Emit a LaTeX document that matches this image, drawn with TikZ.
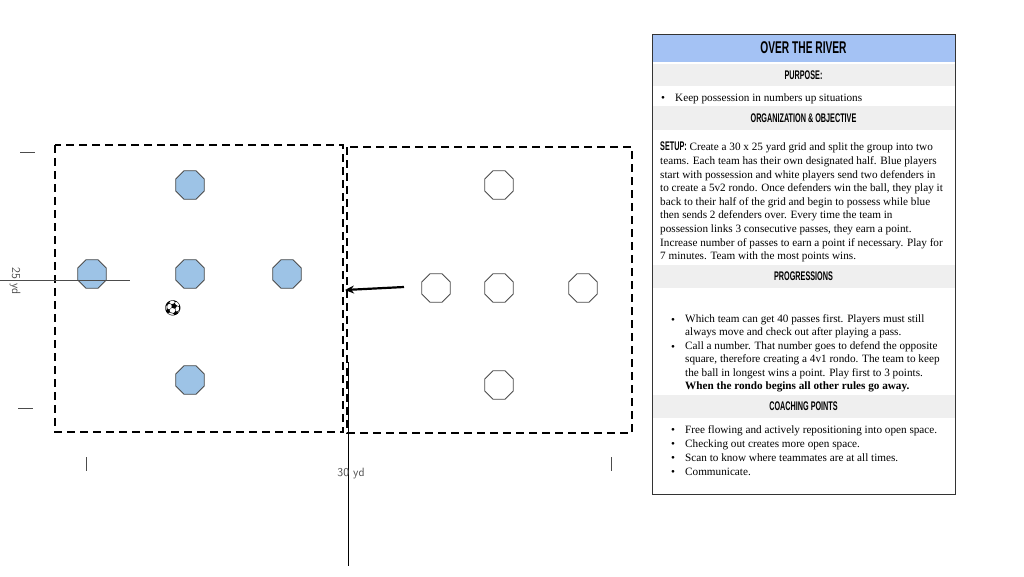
\documentclass[tikz,border=0pt]{standalone}
\usepackage{fontspec}
\setmainfont{Liberation Serif}
\newfontfamily\headf{Liberation Sans}
\newfontfamily\emo{Noto Emoji}
\usetikzlibrary{shapes.geometric,arrows.meta}
\definecolor{pblue}{HTML}{9DC3E6}
\definecolor{hblue}{HTML}{A4C2F4}
\definecolor{band}{HTML}{EFEFEF}
\tikzset{
 oct/.style={regular polygon,regular polygon sides=8,minimum size=31pt,inner sep=0,draw=black!70,line width=0.8pt},
 bp/.style={oct,fill=pblue},
 wp/.style={oct,fill=white},
 grid/.style={dashed,dash pattern=on 8pt off 5pt,line width=1.6pt},
 hd/.style={font=\headf\bfseries\fontsize{12.5}{12}\selectfont,inner sep=0},
 body/.style={font=\fontsize{11.2}{13.6}\selectfont,align=left,inner sep=0,anchor=base west},
 mbody/.style={body,anchor=north west},
 bul/.style={body}
}
\newcommand\hx[1]{\scalebox{0.58}[1]{\MakeUppercase{#1}}}
\newcommand\tx[1]{\scalebox{0.6}[1]{\MakeUppercase{#1}}}
\begin{document}
\begin{tikzpicture}[x=1pt,y=-1pt]
\useasboundingbox (0,0) rectangle (1024,576);
% grid
\draw[grid] (55,145) rectangle (343,432);
\draw[grid] (347,147) rectangle (632,433);
% players
\node[bp] (b1) at (190,185) {};
\node[bp] (b2) at (92,274) {};
\node[bp] (b3) at (190,274) {};
\node[bp] (b4) at (287,274) {};
\node[bp] (b5) at (190,380) {};
\node[wp] (w1) at (499,185) {};
\node[wp] (w2) at (436,288) {};
\node[wp] (w3) at (499,288) {};
\node[wp] (w4) at (583,288) {};
\node[wp] (w5) at (499,385) {};
\node (ball) at (173,308) {\emo\fontsize{15}{15}\selectfont ⚽};
% arrow
\coordinate (as) at (404,287);
\coordinate (ae) at (345,290);
\draw[-{Stealth[length=9pt,width=8pt]},line width=2.2pt] (as) -- (ae);
% measurement lines
\coordinate (h1) at (0,280); \coordinate (h2) at (130,280);
\draw[black!70,line width=0.8pt] (h1) -- (h2);
\node[rotate=-90,font=\sffamily\fontsize{12}{12}\selectfont,text=black!70] (l25) at (15,281) {25 yd};
\coordinate (t1) at (20,152); \coordinate (t2) at (35,152);
\draw[black!70,line width=0.8pt] (t1) -- (t2);
\coordinate (t3) at (18,408); \coordinate (t4) at (33,408);
\draw[black!70,line width=0.8pt] (t3) -- (t4);
\coordinate (v1) at (86,457); \coordinate (v2) at (86,471);
\draw[black!70,line width=0.8pt] (v1) -- (v2);
\coordinate (v3) at (611,457); \coordinate (v4) at (611,471);
\draw[black!70,line width=0.8pt] (v3) -- (v4);
\coordinate (m1) at (348,362); \coordinate (m2) at (348,566);
\draw[line width=0.8pt] (m1) -- (m2);
\node[font=\sffamily\fontsize{12}{12}\selectfont,text=black!70] (l30) at (351,474) {30 yd};
% panel
\fill[hblue] (652,34) rectangle (955,62);
\fill[band] (652,64) rectangle (955,86);
\fill[band] (652,106) rectangle (955,130);
\fill[band] (652,265) rectangle (955,288);
\fill[band] (652,395) rectangle (955,418);
\draw[black!80,line width=1pt] (652,34) rectangle (955,494);
\node[hd,font=\headf\bfseries\fontsize{17}{17}\selectfont] (title) at (803.5,48) {\tx{Over the River}};
\node[hd] (pur) at (803.5,75) {\hx{Purpose:}};
\node[bul] (pb0) at (661,101) {•};
\node[body] (pb) at (675,101) {Keep possession in numbers up situations};
\node[hd] (org) at (803.5,118) {\hx{Organization \& Objective}};
\node[mbody] (setup) at (660,142) {{\headf\bfseries\fontsize{12.5}{12}\selectfont\hx{Setup:}} Create a 30 x 25 yard grid and split the group into two\\teams. Each team has their own designated half. Blue players\\start with possession and white players send two defenders in\\to create a 5v2 rondo. Once defenders win the ball, they play it\\back to their half of the grid and begin to possess while blue\\then sends 2 defenders over. Every time the team in\\possession links 3 consecutive passes, they earn a point.\\Increase number of passes to earn a point if necessary. Play for\\7 minutes. Team with the most points wins.};
\node[hd] (prog) at (803.5,276) {\hx{Progressions}};
\node[bul] (p10) at (671,323) {•};
\node[mbody] (p1) at (685,314) {Which team can get 40 passes first. Players must still\\always move and check out after playing a pass.};
\node[bul] (p20) at (671,350) {•};
\node[mbody] (p2) at (685,341) {Call a number. That number goes to defend the opposite\\square, therefore creating a 4v1 rondo. The team to keep\\the ball in longest wins a point. Play first to 3 points.\\\textbf{When the rondo begins all other rules go away.}};
\node[hd] (coach) at (803.5,406) {\hx{Coaching Points}};
\node[bul] (c10) at (671,433) {•};
\node[body] (c1) at (685,433) {Free flowing and actively repositioning into open space.};
\node[bul] (c20) at (671,447) {•};
\node[body] (c2) at (685,447) {Checking out creates more open space.};
\node[bul] (c30) at (671,461) {•};
\node[body] (c3) at (685,461) {Scan to know where teammates are at all times.};
\node[bul] (c40) at (671,475) {•};
\node[body] (c4) at (685,475) {Communicate.};
\end{tikzpicture}
\end{document}
